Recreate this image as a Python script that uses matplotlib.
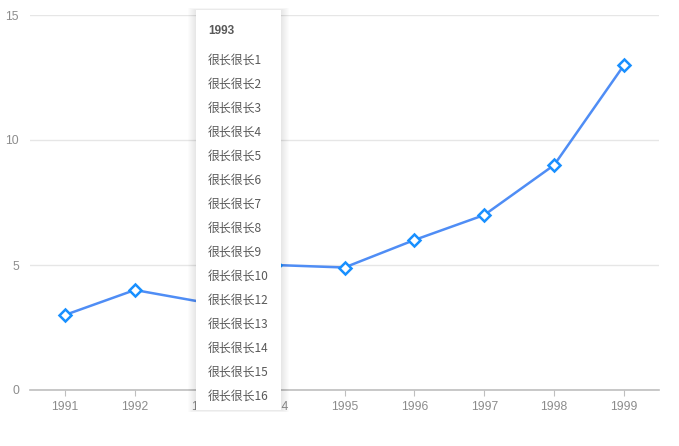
import matplotlib
matplotlib.use('Agg')
import matplotlib.pyplot as plt
from matplotlib.patches import Rectangle

plt.rcParams['font.family'] = ['Liberation Sans', 'Noto Sans CJK SC', 'DejaVu Sans']

# data
years = ['1991', '1992', '1993', '1994', '1995', '1996', '1997', '1998', '1999']
values = [3, 4, 3.5, 5, 4.9, 6, 7, 9, 13]
y_ticks = [0, 5, 10, 15]
tooltip_title = '1993'
tooltip_items = ['很长很长1', '很长很长2', '很长很长3', '很长很长4', '很长很长5',
                 '很长很长6', '很长很长7', '很长很长8', '很长很长9', '很长很长10',
                 '很长很长12', '很长很长13', '很长很长14', '很长很长15', '很长很长16']

W, H = 679, 446
fig = plt.figure(figsize=(W / 100, H / 100), dpi=100)
ax = fig.add_axes([30 / W, 1 - 390 / H, 629 / W, 375 / H])

x = list(range(len(years)))
ax.plot(x, values, color='#4f8df5', lw=1.8, zorder=3)
ax.plot(x, values, ls='none', marker='D', ms=6.5, mfc='white', mec='#1890ff', mew=1.8, zorder=4)

ax.set_xlim(-0.5, len(years) - 0.5)
ax.set_ylim(0, 15)
ax.set_xticks(x)
ax.set_xticklabels(years)
ax.set_yticks(y_ticks)
ax.grid(axis='y', color='#e6e6e6', lw=1)
ax.set_axisbelow(True)
for s in ['top', 'right', 'left']:
    ax.spines[s].set_visible(False)
ax.spines['bottom'].set_color('#bfbfbf')
ax.spines['bottom'].set_linewidth(1.2)
ax.tick_params(axis='x', length=4, color='#bfbfbf', labelcolor='#8c8c8c', labelsize=8.7, pad=4)
ax.tick_params(axis='y', length=0, labelcolor='#8c8c8c', labelsize=8.7, pad=8)

# tooltip box with a soft shadow (pixel coords -> figure fractions)
bx0, bx1, by0, by1 = 196, 281, 10, 410
for g in range(8, 0, -1):
    fig.add_artist(Rectangle(((bx0 - g) / W, 1 - (by1 + g * 0.3) / H), (bx1 - bx0 + 2 * g) / W,
                             (by1 - by0 + g * 0.6) / H, transform=fig.transFigure,
                             facecolor='black', edgecolor='none', alpha=0.012, zorder=9))
fig.add_artist(Rectangle((bx0 / W, 1 - by1 / H), (bx1 - bx0) / W, (by1 - by0) / H,
                         transform=fig.transFigure, facecolor='white', edgecolor='none', zorder=10))

fig.text(208 / W, 1 - 31 / H, tooltip_title, color='#595959', fontsize=8.5, fontweight='bold',
         va='center', ha='left', zorder=11)
for i, item in enumerate(tooltip_items):
    fig.text(208 / W, 1 - (60 + 24 * i) / H, item, color='#595959', fontsize=8.6,
             family=['Noto Sans CJK SC', 'DejaVu Sans'], va='center', ha='left', zorder=11)

fig.savefig('out.png', dpi=100)
